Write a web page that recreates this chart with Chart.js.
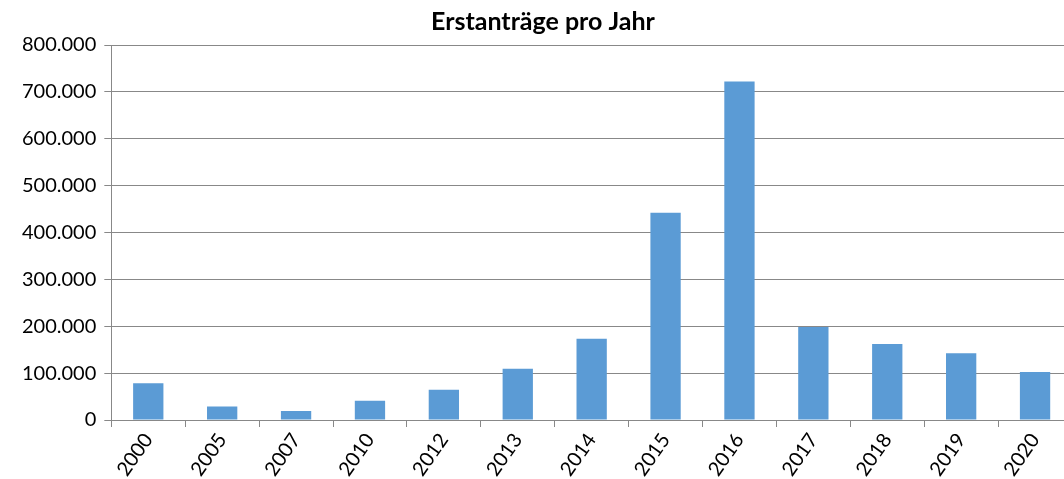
<!DOCTYPE html>
<html>
<head>
<meta charset="utf-8">
<script src="https://cdn.jsdelivr.net/npm/chart.js@4"></script>
<style>
  html, body { margin: 0; padding: 0; background: #fff; overflow: hidden; }
  #wrap { width: 1072px; height: 479px; }
</style>
</head>
<body>
<div id="wrap"><canvas id="chart"></canvas></div>
<script>
// Jahre und Erstanträge
const years = ['2000', '2005', '2007', '2010', '2012', '2013', '2014', '2015', '2016', '2017', '2018', '2019', '2020'];
const firstApplications = [78564, 28914, 19164, 41332, 64539, 109580, 173072, 441899, 722370, 198317, 161931, 142509, 102581];

// Format numbers German style (800.000)
function formatGerman(value) {
    return String(value).replace(/\B(?=(\d{3})+(?!\d))/g, '.');
}

const ctx = document.getElementById('chart').getContext('2d');
new Chart(ctx, {
    type: 'bar',
    data: {
        labels: years,
        datasets: [{
            data: firstApplications,
            backgroundColor: '#5B9BD5',
            barPercentage: 0.41,
            categoryPercentage: 1
        }]
    },
    options: {
        responsive: true,
        maintainAspectRatio: false,
        animation: false,
        layout: { padding: { left: 14, right: 0, top: 7, bottom: 0 } },
        plugins: {
            legend: { display: false },
            tooltip: { enabled: false },
            title: {
                display: true,
                text: 'Erstanträge pro Jahr',
                color: '#000',
                font: { family: 'Lato', size: 25, weight: 'bold' },
                padding: { top: 0, bottom: 8 }
            }
        },
        scales: {
            x: {
                // labels run off the bottom edge like in the original
                afterFit: scale => { scale.height = 59; },
                grid: { display: true, drawOnChartArea: false, color: '#888', tickLength: 7, offset: true },
                border: { color: '#888' },
                ticks: {
                    color: '#000',
                    font: { family: 'Lato', size: 20 },
                    minRotation: 55,
                    maxRotation: 55,
                    autoSkip: false,
                    padding: 2
                }
            },
            y: {
                min: 0,
                max: 800000,
                grid: { color: '#888', tickLength: 7 },
                border: { color: '#888' },
                ticks: {
                    stepSize: 100000,
                    color: '#000',
                    font: { family: 'Lato', size: 20 },
                    padding: 8,
                    callback: value => formatGerman(value)
                }
            }
        }
    }
});
</script>
</body>
</html>
